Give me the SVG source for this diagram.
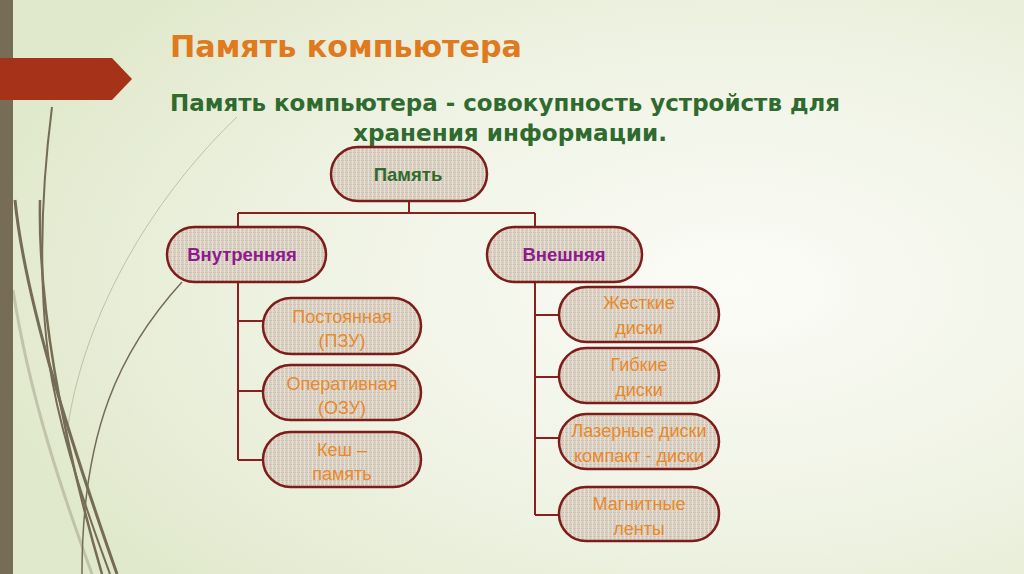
<svg xmlns="http://www.w3.org/2000/svg" width="1024" height="574" viewBox="0 0 1024 574">
<defs>
<radialGradient id="bg" cx="0.72" cy="0.5" r="0.75">
<stop offset="0" stop-color="#fbfcf7"/>
<stop offset="0.6" stop-color="#eef2e2"/>
<stop offset="1" stop-color="#e1e9cc"/>
</radialGradient>
<pattern id="linen" width="4" height="4" patternUnits="userSpaceOnUse">
<rect width="4" height="4" fill="#dcd3c5"/>
<rect x="0" y="0" width="4" height="1" fill="#cdc2b2"/>
<rect x="0" y="0" width="1" height="4" fill="#e6dfd3"/>
<rect x="2" y="2" width="1" height="1" fill="#c6baa8"/>
</pattern>
<style>
.node{fill:url(#linen);stroke:#7e1c1c;stroke-width:2.5}
.conn{fill:none;stroke:#8a1f1f;stroke-width:2}
.deco{fill:none;stroke:#766c55}
.t{font-family:"Liberation Sans",Arial,sans-serif;text-anchor:middle}
.lbl{font-size:18px;fill:#e8892c}
.hd{font-size:18.5px;font-weight:bold}
.ti{font-family:"DejaVu Sans",Verdana,sans-serif;font-weight:bold}
</style>
</defs>
<rect width="1024" height="574" fill="url(#bg)"/>
<g id="decoration">
<path class="deco" d="M237 117 C150 200 80 320 66 440" stroke-width="1" opacity="0.35"/>
<path class="deco" d="M13 290 C30 400 65 500 92 574" stroke-width="3" opacity="0.3"/>
<path class="deco" d="M52 107 C40 200 38 300 52 380 C65 450 90 520 110 574" stroke-width="2"/>
<path class="deco" d="M15 200 C25 300 70 440 117 574" stroke-width="3"/>
<path class="deco" d="M40 200 C38 300 60 430 102 574" stroke-width="2.5"/>
<path class="deco" d="M182 282 C120 350 82 430 82 574" stroke-width="1.5"/>
<rect x="0" y="0" width="13" height="574" fill="#776c56"/>
<polygon points="0,58 112,58 132,79 112,100 0,100" fill="#a63219"/>
</g>
<g id="title">
<text x="170" y="57" class="ti" font-size="30" fill="#e07a1f" textLength="352" lengthAdjust="spacingAndGlyphs">Память компьютера</text>
<text x="505" y="111" class="ti" font-size="23" fill="#2f6a2e" text-anchor="middle" textLength="670" lengthAdjust="spacingAndGlyphs">Память компьютера - совокупность устройств для</text>
<text x="510" y="141" class="ti" font-size="23" fill="#2f6a2e" text-anchor="middle" textLength="314" lengthAdjust="spacingAndGlyphs">хранения информации.</text>
</g>
<g id="connectors">
<path class="conn" d="M409 201 V213 M238 213 H535 M238 213 V226 M535 213 V226"/>
<path class="conn" d="M238 282 V460 M238 321 H263 M238 391 H263 M238 460 H263"/>
<path class="conn" d="M535 282 V515 M535 315 H559 M535 377 H559 M535 438 H559 M535 515 H559"/>
</g>
<g id="n-pamyat">
<rect class="node" x="331" y="147" width="156" height="54" rx="27"/>
<text class="t hd" x="408" y="181" fill="#2f6a2e">Память</text>
</g>
<g id="n-vnutr">
<rect class="node" x="167" y="227" width="159" height="55" rx="27.5"/>
<text class="t hd" x="242" y="261" fill="#8e1a8e">Внутренняя</text>
</g>
<g id="n-vnesh">
<rect class="node" x="487" y="227" width="155" height="55" rx="27.5"/>
<text class="t hd" x="564" y="261" fill="#8e1a8e">Внешняя</text>
</g>
<g id="n-pzu">
<rect class="node" x="263" y="298" width="158" height="56" rx="28"/>
<text class="t lbl" x="342" y="323">Постоянная</text>
<text class="t lbl" x="342" y="347">(ПЗУ)</text>
</g>
<g id="n-ozu">
<rect class="node" x="263" y="365" width="158" height="55" rx="27.5"/>
<text class="t lbl" x="342" y="390">Оперативная</text>
<text class="t lbl" x="342" y="414">(ОЗУ)</text>
</g>
<g id="n-kesh">
<rect class="node" x="263" y="432" width="158" height="55" rx="27.5"/>
<text class="t lbl" x="342" y="456">Кеш –</text>
<text class="t lbl" x="342" y="480">память</text>
</g>
<g id="n-hdd">
<rect class="node" x="559" y="287" width="160" height="55" rx="27.5"/>
<text class="t lbl" x="639" y="309">Жесткие</text>
<text class="t lbl" x="639" y="334">диски</text>
</g>
<g id="n-fdd">
<rect class="node" x="559" y="348" width="160" height="55" rx="27.5"/>
<text class="t lbl" x="639" y="371">Гибкие</text>
<text class="t lbl" x="639" y="396">диски</text>
</g>
<g id="n-cd">
<rect class="node" x="559" y="414" width="160" height="55" rx="27.5"/>
<text class="t lbl" x="639" y="437">Лазерные диски</text>
<text class="t lbl" x="639" y="462">компакт - диски</text>
</g>
<g id="n-tape">
<rect class="node" x="559" y="487" width="160" height="54" rx="27"/>
<text class="t lbl" x="639" y="510">Магнитные</text>
<text class="t lbl" x="639" y="535">ленты</text>
</g>
</svg>
